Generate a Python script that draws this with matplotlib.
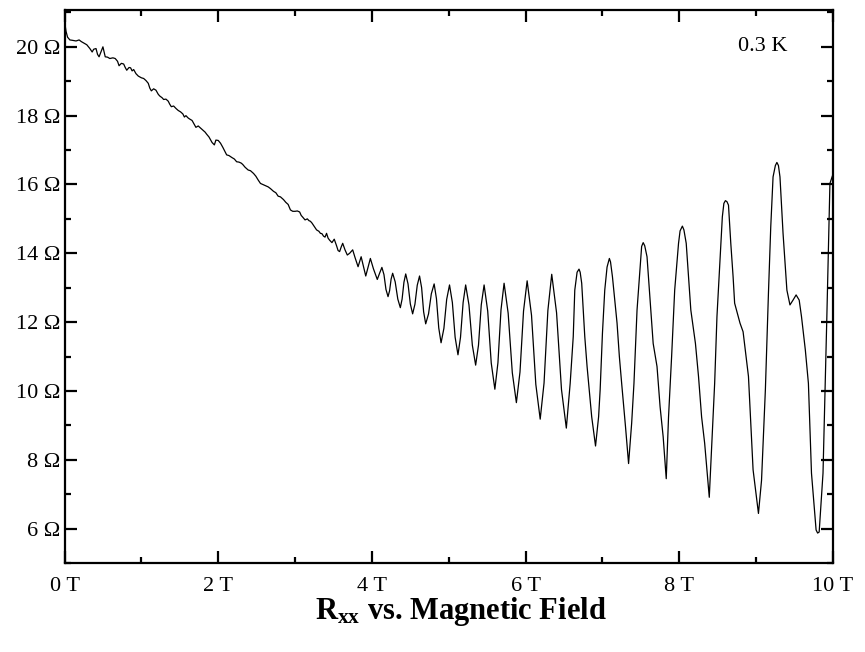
import matplotlib
matplotlib.use("Agg")
import matplotlib.pyplot as plt
from matplotlib.ticker import MultipleLocator, FuncFormatter

# ---- data (field in T, Rxx in Ohm) ----
field_T = [
    0.00, 0.02, 0.04, 0.07, 0.10, 0.15, 0.19, 0.22, 0.26, 0.29, 0.33, 0.36, 0.38, 0.41,
    0.43, 0.45, 0.48, 0.50, 0.53, 0.56, 0.59, 0.63, 0.66, 0.69, 0.71, 0.74, 0.77, 0.79,
    0.81, 0.84, 0.86, 0.88, 0.90, 0.93, 0.96, 1.00, 1.03, 1.06, 1.09, 1.11, 1.13, 1.16,
    1.19, 1.22, 1.24, 1.27, 1.29, 1.32, 1.35, 1.37, 1.39, 1.42, 1.45, 1.48, 1.51, 1.54,
    1.56, 1.58, 1.61, 1.63, 1.66, 1.68, 1.71, 1.74, 1.77, 1.80, 1.83, 1.85, 1.88, 1.90,
    1.92, 1.95, 1.97, 2.00, 2.03, 2.06, 2.09, 2.11, 2.14, 2.18, 2.21, 2.24, 2.27, 2.30,
    2.32, 2.35, 2.39, 2.42, 2.46, 2.49, 2.52, 2.55, 2.58, 2.61, 2.65, 2.68, 2.72, 2.75,
    2.78, 2.81, 2.85, 2.88, 2.91, 2.94, 2.97, 3.00,
    3.03, 3.06, 3.08, 3.10, 3.13, 3.16, 3.18, 3.20, 3.22, 3.25, 3.28, 3.31, 3.33, 3.35,
    3.37, 3.39, 3.41, 3.43, 3.45, 3.48, 3.51, 3.54, 3.56, 3.58, 3.60, 3.62, 3.65, 3.68,
    3.71, 3.75, 3.78, 3.82, 3.86, 3.89, 3.92, 3.95, 3.98, 4.02, 4.07, 4.10, 4.13,
    4.157, 4.183, 4.21, 4.23, 4.25, 4.27, 4.303, 4.337, 4.37, 4.393, 4.417, 4.44,
    4.47, 4.50, 4.53, 4.56, 4.59, 4.62,
    4.647, 4.673, 4.70, 4.737, 4.773, 4.81, 4.84, 4.87, 4.90, 4.937, 4.973, 5.01,
    5.047, 5.083, 5.12, 5.153, 5.187, 5.22, 5.263, 5.307, 5.35, 5.387, 5.423, 5.46,
    5.507, 5.553, 5.60, 5.64, 5.68, 5.72, 5.773, 5.827, 5.88, 5.927, 5.973, 6.02,
    6.077, 6.133, 6.19, 6.24, 6.29, 6.34, 6.403, 6.467, 6.53,
    6.58, 6.62, 6.64, 6.67, 6.695, 6.71, 6.73, 6.77, 6.80, 6.86, 6.91, 6.95, 6.97,
    7.00, 7.03, 7.06, 7.09, 7.105, 7.13, 7.19, 7.22, 7.25, 7.30, 7.34, 7.38, 7.41,
    7.45, 7.49, 7.51, 7.53, 7.55, 7.58, 7.62, 7.66, 7.71, 7.75, 7.79, 7.83, 7.86,
    7.90, 7.94, 7.99, 8.01, 8.04, 8.06, 8.09, 8.12, 8.15, 8.21, 8.25, 8.29, 8.33,
    8.39, 8.43, 8.46, 8.49, 8.53, 8.56, 8.58, 8.60, 8.62, 8.64, 8.67, 8.70, 8.72,
    8.79, 8.83, 8.90, 8.96, 9.03, 9.07, 9.12, 9.16, 9.19, 9.22, 9.25, 9.27, 9.29,
    9.31, 9.35, 9.40, 9.44, 9.48, 9.52, 9.56, 9.59, 9.64, 9.68, 9.72, 9.78, 9.80,
    9.82, 9.87, 9.92, 9.96, 10.00,
]
rxx_ohm = [
    20.75, 20.45, 20.28, 20.20, 20.19, 20.17, 20.20, 20.15, 20.10, 20.06, 19.95, 19.85, 19.93, 19.95,
    19.78, 19.71, 19.88, 20.00, 19.71, 19.70, 19.66, 19.68, 19.66, 19.58, 19.45, 19.52, 19.50, 19.40,
    19.32, 19.40, 19.39, 19.30, 19.34, 19.22, 19.15, 19.10, 19.08, 19.02, 18.94, 18.80, 18.72, 18.78,
    18.74, 18.62, 18.57, 18.52, 18.47, 18.48, 18.42, 18.33, 18.26, 18.28, 18.21, 18.15, 18.11, 18.05,
    17.96, 18.00, 17.93, 17.90, 17.86, 17.78, 17.66, 17.70, 17.64, 17.58, 17.52, 17.46, 17.38, 17.30,
    17.22, 17.15, 17.29, 17.28, 17.20, 17.08, 16.95, 16.86, 16.84, 16.78, 16.74, 16.66, 16.65, 16.62,
    16.58, 16.50, 16.42, 16.40, 16.32, 16.24, 16.13, 16.03, 16.00, 15.97, 15.93, 15.88, 15.80, 15.76,
    15.66, 15.64, 15.56, 15.48, 15.42, 15.26, 15.22, 15.22,
    15.23, 15.20, 15.10, 15.05, 14.97, 15.00, 14.95, 14.93, 14.88, 14.78, 14.68, 14.64, 14.58, 14.57,
    14.50, 14.47, 14.58, 14.44, 14.38, 14.31, 14.41, 14.22, 14.08, 14.05, 14.18, 14.29, 14.10, 13.95,
    14.00, 14.10, 13.88, 13.61, 13.90, 13.62, 13.34, 13.60, 13.85, 13.55, 13.24, 13.42, 13.59,
    13.38, 12.95, 12.74, 12.91, 13.25, 13.42, 13.17, 12.67, 12.42, 12.67, 13.16, 13.40,
    13.11, 12.53, 12.24, 12.52, 13.07, 13.34,
    13.00, 12.30, 11.95, 12.24, 12.82, 13.11, 12.68, 11.83, 11.40, 11.82, 12.66, 13.08,
    12.57, 11.56, 11.05, 11.56, 12.57, 13.08, 12.50, 11.33, 10.75, 11.33, 12.50, 13.08,
    12.32, 10.81, 10.05, 10.82, 12.36, 13.13, 12.26, 10.53, 9.66, 10.55, 12.32, 13.20,
    12.20, 10.19, 9.18, 10.23, 12.34, 13.39, 12.27, 10.04, 8.92,
    10.22, 11.58, 12.93, 13.45, 13.54, 13.45, 13.13, 11.58, 10.71, 9.25, 8.40, 9.25, 10.03,
    11.68, 12.93, 13.60, 13.85, 13.75, 13.32, 11.97, 11.00, 10.22, 8.96, 7.89, 9.06, 10.22,
    12.35, 13.61, 14.20, 14.31, 14.22, 13.90, 12.64, 11.38, 10.71, 9.54, 8.67, 7.45, 9.25,
    11.00, 12.93, 14.29, 14.65, 14.79, 14.68, 14.29, 13.32, 12.35, 11.38, 10.42, 9.25, 8.48,
    6.91, 8.77, 10.22, 12.16, 13.80, 15.06, 15.45, 15.53, 15.50, 15.40, 14.29, 13.32, 12.55,
    11.97, 11.72, 10.42, 7.71, 6.44, 7.40, 10.03, 12.84, 14.77, 16.22, 16.55, 16.64, 16.55,
    16.22, 14.58, 12.93, 12.50, 12.64, 12.79, 12.64, 12.16, 11.19, 10.22, 7.61, 5.96, 5.87,
    5.90, 7.61, 12.16, 16.03, 16.30,
]
assert len(field_T) == len(rxx_ohm)

x_major_ticks = [0, 2, 4, 6, 8, 10]
y_major_ticks = [6, 8, 10, 12, 14, 16, 18, 20]
temperature_label = "0.3 K"
title_text = r"R$_\mathrm{xx}$ vs. Magnetic Field"

serif = "Liberation Serif"
plt.rcParams["font.family"] = [serif, "DejaVu Serif"]
plt.rcParams["mathtext.fontset"] = "custom"
plt.rcParams["mathtext.rm"] = "Liberation Serif:bold"
plt.rcParams["mathtext.it"] = "Liberation Serif:bold"
plt.rcParams["mathtext.bf"] = "Liberation Serif:bold"

fig = plt.figure(figsize=(8.65, 6.52), dpi=100)
ax = fig.add_axes([64.5 / 865, 1 - 563 / 652, (833 - 64.5) / 865, (563 - 10) / 652])

ax.plot(field_T, rxx_ohm, color="black", lw=0.9)

ax.set_xlim(0, 10)
ax.set_ylim(5.0, 21.07)

ax.xaxis.set_minor_locator(MultipleLocator(1))
ax.yaxis.set_minor_locator(MultipleLocator(1))
ax.set_xticks(x_major_ticks)
ax.set_yticks(y_major_ticks)
ax.xaxis.set_major_formatter(FuncFormatter(lambda v, p: f"{v:g} T"))
ax.yaxis.set_major_formatter(FuncFormatter(lambda v, p: f"{v:g} \u03A9"))

ax.tick_params(which="both", direction="in", top=True, right=True,
               width=1.6, labelsize=16, color="black")
ax.tick_params(which="major", length=8.5)
ax.tick_params(which="minor", length=4.5)
ax.tick_params(axis="x", which="major", pad=10)
ax.tick_params(axis="y", which="major", pad=3)
for s in ax.spines.values():
    s.set_linewidth(1.6)

ax.text(0.909, 0.934, temperature_label, transform=ax.transAxes,
        ha="center", va="center", fontsize=16)

fig.text(461 / 865, 1 - 612 / 652, title_text, ha="center", va="center",
         fontsize=22, fontweight="bold")

fig.savefig("out.png", dpi=100)
